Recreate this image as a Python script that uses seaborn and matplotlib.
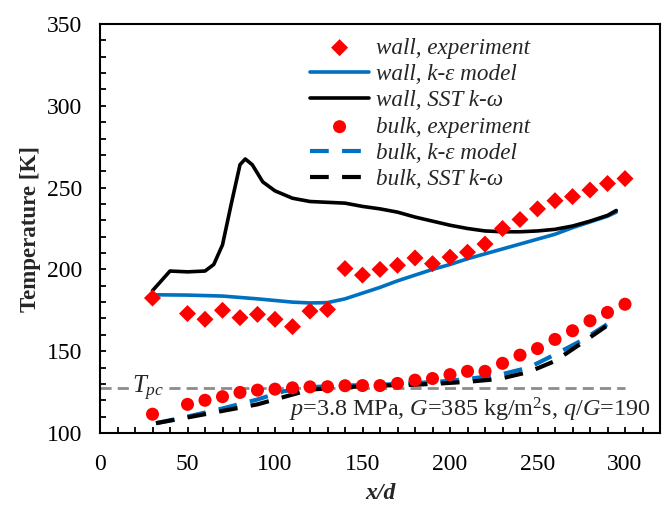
import matplotlib
matplotlib.use("Agg")
import matplotlib.pyplot as plt
from matplotlib.ticker import MultipleLocator
import pandas as pd
import seaborn as sns

# Measured wall and bulk temperatures along the tube
x_exp = [30, 50, 60, 70, 80, 90, 100, 110, 120, 130, 140, 150, 160, 170, 180,
         190, 200, 210, 220, 230, 240, 250, 260, 270, 280, 290, 300]
wall_exp = [182.5, 173, 169.5, 175, 170.5, 172.5, 169.5, 165, 174.5, 175.5,
            200.5, 196.5, 200, 202.5, 207, 203.5, 207.5, 210.5, 215.5, 225,
            230.5, 237, 242, 244.5, 248.5, 252.5, 255.5]
bulk_exp = [111.5, 117.5, 120, 122.2, 124.8, 126.2, 126.8, 127.6, 128.2, 128.3,
            128.9, 129, 129, 130.3, 132.3, 133.3, 135.7, 137.7, 137.7, 142.6,
            147.6, 151.6, 157.2, 162.5, 168.6, 173.7, 178.7]

# k-epsilon model, wall temperature
x_wall_ke = [30, 50, 70, 90, 110, 120, 130, 140, 150, 160, 170, 180, 190, 200,
             210, 220, 230, 240, 250, 260, 270, 280, 290, 295]
wall_ke = [184.5, 184.3, 183.7, 182, 180, 179.5, 179.7, 182, 185.5, 189, 193,
           196.5, 200, 203, 206.5, 209.5, 212.5, 215.5, 218.5, 221.5, 225.5,
           229, 232.5, 235]

# SST k-omega model, wall temperature
x_wall_sst = [30, 40, 50, 60, 65, 70, 75, 80, 83, 87, 93, 100, 110, 120, 130,
              140, 150, 160, 170, 180, 190, 200, 210, 220, 230, 240, 250, 260,
              270, 280, 290, 295]
wall_sst = [187, 199, 198.5, 199, 203, 215, 240, 264, 267.5, 264, 253.5, 248,
            243.5, 241.5, 241, 240.5, 238.5, 237, 235, 232, 229.5, 227, 225,
            223.5, 223, 223, 223.5, 224.5, 226.5, 229.5, 233, 236]

# Bulk temperature from both models
x_bulk = [32, 50, 70, 90, 105, 120, 140, 160, 180, 195, 210, 228, 245, 260,
          276, 295]
bulk_ke = [106, 110, 115, 120.5, 125.5, 128, 129, 129.5, 130.5, 131.5, 133,
           135.5, 140, 148, 157, 170]
bulk_sst = [106, 109.5, 113.5, 117.5, 122, 126.5, 128, 129, 129.5, 130.3,
            131.3, 133, 137.3, 144, 155.5, 169.5]

# Pseudo-critical temperature
t_pc = 127.5
t_pc_span = [0, 300]

sns.set_style("ticks")
plt.rcParams["font.family"] = ["Liberation Serif", "DejaVu Serif"]
plt.rcParams["mathtext.fontset"] = "custom"
plt.rcParams["mathtext.rm"] = "Liberation Serif"
plt.rcParams["mathtext.it"] = "Liberation Serif:italic"
plt.rcParams["mathtext.bf"] = "Liberation Serif:bold"

RED = "#ff0000"
BLUE = "#0070c0"
BLACK = "#000000"

fig = plt.figure(figsize=(6.67, 5.08), dpi=100)
ax = fig.add_axes([100 / 667, 75 / 508, 560 / 667, 409 / 508])

df_exp = pd.DataFrame({"x": x_exp, "wall": wall_exp, "bulk": bulk_exp})
df_ke = pd.DataFrame({"x": x_wall_ke, "T": wall_ke})
df_sst = pd.DataFrame({"x": x_wall_sst, "T": wall_sst})
df_bulk = pd.DataFrame({"x": x_bulk, "ke": bulk_ke, "sst": bulk_sst})

ax.hlines(t_pc, t_pc_span[0], t_pc_span[1], colors="#8c8c8c", lw=2.0,
          linestyles=(0, (4, 2.2)), zorder=1)
ax.text(18, t_pc, r"$T_{pc}$", fontsize=18, va="center", ha="left",
        bbox=dict(facecolor="white", edgecolor="none", pad=1.0), zorder=1.5)

dash = (4.5, 3.2)
sns.lineplot(data=df_ke, x="x", y="T", ax=ax, color=BLUE, lw=2.6,
             label="wall, k-\u03b5 model", zorder=3)
sns.lineplot(data=df_sst, x="x", y="T", ax=ax, color=BLACK, lw=2.6,
             label="wall, SST k-\u03c9", zorder=3, sort=False)
sns.lineplot(data=df_bulk, x="x", y="ke", ax=ax, color=BLUE, lw=3.0,
             label="bulk, k-\u03b5 model", zorder=3)
sns.lineplot(data=df_bulk, x="x", y="sst", ax=ax, color=BLACK, lw=3.0,
             label="bulk, SST k-\u03c9", zorder=3)
for ln in ax.lines[-2:]:
    ln.set_dashes(dash)

sns.scatterplot(data=df_exp, x="x", y="wall", ax=ax, marker="D", s=75,
                color=RED, edgecolor="none", label="wall, experiment", zorder=4)
sns.scatterplot(data=df_exp, x="x", y="bulk", ax=ax, marker="o", s=88,
                color=RED, edgecolor="none", label="bulk, experiment", zorder=4)

ax.set_xlim(0, 320)
ax.set_ylim(100, 350)
ax.xaxis.set_major_locator(MultipleLocator(50))
ax.xaxis.set_minor_locator(MultipleLocator(10))
ax.yaxis.set_major_locator(MultipleLocator(50))
ax.yaxis.set_minor_locator(MultipleLocator(10))
ax.set_xticks([0, 50, 100, 150, 200, 250, 300])
ax.tick_params(which="both", direction="in", length=4.5, width=1.3,
               labelsize=17, top=False, right=False, colors="black")
ax.tick_params(axis="x", pad=15)
ax.tick_params(axis="y", pad=13)
for sp in ax.spines.values():
    sp.set_visible(True)
    sp.set_linewidth(1.5)
    sp.set_color("black")

ax.set_xlabel("x/d", fontsize=17, fontweight="bold", fontstyle="italic",
              labelpad=6)
ax.set_ylabel("Temperature [K]", fontsize=16.5, fontweight="bold", labelpad=4)

ax.text(108, 114, r"$p$=3.8 MPa, $G$=385 kg/m$^2$s, $q/G$=190",
        fontsize=17.4, ha="left", va="center", zorder=5)

handles, labels = ax.get_legend_handles_labels()
order = ["wall, experiment", "wall, k-\u03b5 model", "wall, SST k-\u03c9",
         "bulk, experiment", "bulk, k-\u03b5 model", "bulk, SST k-\u03c9"]
hmap = dict(zip(labels, handles))
ax.legend([hmap[k] for k in order], order, loc="upper left",
          bbox_to_anchor=(310 / 667, 1 - 37.5 / 508),
          bbox_transform=fig.transFigure, frameon=False,
          prop=dict(family="Liberation Serif", style="italic", size=16.7),
          handlelength=2.55, handletextpad=0.3, labelspacing=0.22,
          borderpad=0, borderaxespad=0)

fig.savefig("out.png", dpi=100)
